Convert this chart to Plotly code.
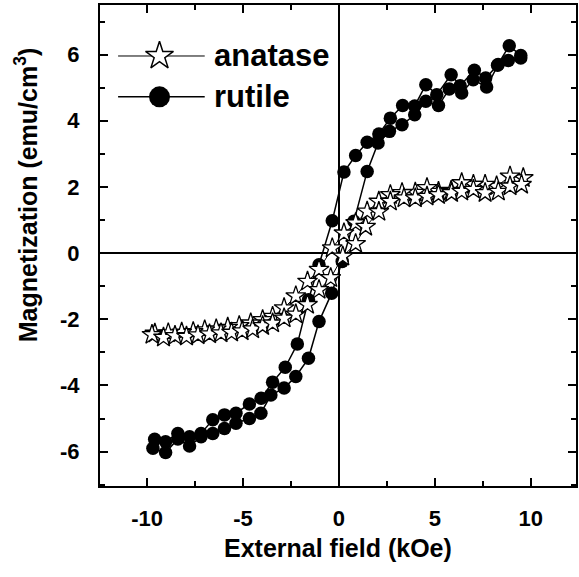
import plotly.graph_objects as go

# ---- data ----
# rutile: descending-field branch
H_RU_DOWN = [9.48, 8.88, 8.27, 7.65, 7.06, 6.32, 5.85, 5.10, 4.53, 3.95, 3.32, 2.68, 2.08, 1.47, 0.87, 0.26,
             -0.35, -1.04, -1.59, -2.17, -2.80, -3.46, -4.06, -4.67, -5.37, -5.97, -6.58, -7.19, -7.79, -8.40, -9.04, -9.61]
M_RU_DOWN = [5.97, 6.27, 5.68, 5.29, 5.53, 5.06, 5.39, 4.79, 5.09, 4.45, 4.46, 4.08, 3.60, 3.35, 2.95, 2.45,
             0.98, -0.35, -1.41, -2.75, -3.45, -3.90, -4.39, -4.56, -4.84, -4.89, -5.04, -5.45, -5.55, -5.45, -5.70, -5.63]
# rutile: ascending-field branch
H_RU_UP = [-9.70, -9.04, -8.40, -7.79, -7.19, -6.58, -5.97, -5.37, -4.67, -4.07, -3.55, -2.86, -2.25, -1.59, -1.04, -0.38,
           0.17, 0.78, 1.47, 2.04, 2.63, 3.29, 3.95, 4.53, 5.19, 5.75, 6.40, 7.00, 7.70, 8.30, 8.83, 9.48]
M_RU_UP = [-5.90, -6.03, -5.62, -5.83, -5.55, -5.45, -5.30, -5.14, -5.00, -4.84, -4.29, -4.08, -3.73, -3.18, -2.07, -1.21,
           -0.25, 0.96, 2.47, 3.33, 3.68, 3.88, 4.18, 4.59, 4.46, 4.96, 4.84, 5.24, 5.02, 5.70, 5.82, 5.90]

# anatase: descending-field branch
H_AN_DOWN = [9.61, 8.92, 8.22, 7.62, 7.01, 6.40, 5.85, 5.19, 4.59, 3.98, 3.29, 2.68, 2.08, 1.47, 0.87, 0.26,
             -0.35, -1.04, -1.64, -2.25, -2.86, -3.46, -3.98, -4.6, -5.2, -5.8, -6.4, -7.0, -7.6, -8.2, -8.9, -9.6]
M_AN_DOWN = [2.27, 2.32, 2.02, 2.07, 2.07, 2.12, 1.89, 1.86, 1.97, 1.83, 1.82, 1.76, 1.56, 1.26, 0.91, 0.60,
             0.15, -0.50, -0.86, -1.30, -1.66, -1.92, -2.02, -2.12, -2.20, -2.25, -2.30, -2.33, -2.38, -2.40, -2.42, -2.43]
# anatase: ascending-field branch
H_AN_UP = [-9.75, -9.15, -8.55, -7.95, -7.35, -6.75, -6.15, -5.6, -5.05, -4.5, -3.98, -3.46, -2.86, -2.25, -1.64, -1.04,
           -0.43, 0.2, 0.87, 1.39, 2.08, 2.68, 3.39, 3.98, 4.59, 5.19, 5.87, 6.40, 7.01, 7.62, 8.31, 8.92, 9.52]
M_AN_UP = [-2.47, -2.55, -2.50, -2.52, -2.48, -2.45, -2.42, -2.40, -2.36, -2.30, -2.20, -2.12, -1.97, -1.85, -1.56, -1.11,
           -0.75, -0.10, 0.28, 0.80, 1.25, 1.56, 1.66, 1.66, 1.71, 1.76, 1.82, 1.86, 1.92, 1.82, 1.86, 2.02, 2.07]

SERIES_NAMES = ["anatase", "rutile"]
X_TICKS = [-10, -5, 0, 5, 10]
Y_TICKS = [-6, -4, -2, 0, 2, 4, 6]

FONT = "Liberation Sans, Arial, Helvetica, sans-serif"

fig = go.Figure()

# rutile loop
fig.add_trace(go.Scatter(
    x=H_RU_DOWN + H_RU_UP, y=M_RU_DOWN + M_RU_UP, mode="lines+markers",
    line=dict(color="black", width=1.5),
    marker=dict(symbol="circle", size=13.5, color="black"),
    showlegend=False))

# anatase loop
fig.add_trace(go.Scatter(
    x=H_AN_DOWN + H_AN_UP, y=M_AN_DOWN + M_AN_UP, mode="lines+markers",
    line=dict(color="black", width=1),
    marker=dict(symbol="star", size=15, color="white", line=dict(color="black", width=1.3)),
    showlegend=False))

# ---- custom legend drawn on an overlay axis (fractions of the plot area) ----
LEG_LINE_X = [0.038, 0.125, 0.22]
LEG_ROW_Y = [0.894, 0.809]
fig.add_trace(go.Scatter(
    x=LEG_LINE_X, y=[LEG_ROW_Y[0]] * 3, mode="lines", xaxis="x2", yaxis="y2",
    line=dict(color="black", width=1), showlegend=False, hoverinfo="skip"))
fig.add_trace(go.Scatter(
    x=[LEG_LINE_X[1]], y=[LEG_ROW_Y[0]], mode="markers", xaxis="x2", yaxis="y2",
    marker=dict(symbol="star", size=21, color="white", line=dict(color="black", width=1.5)),
    showlegend=False, hoverinfo="skip"))
fig.add_trace(go.Scatter(
    x=LEG_LINE_X, y=[LEG_ROW_Y[1]] * 3, mode="lines", xaxis="x2", yaxis="y2",
    line=dict(color="black", width=1.5), showlegend=False, hoverinfo="skip"))
fig.add_trace(go.Scatter(
    x=[LEG_LINE_X[1]], y=[LEG_ROW_Y[1]], mode="markers", xaxis="x2", yaxis="y2",
    marker=dict(symbol="circle", size=21, color="black"),
    showlegend=False, hoverinfo="skip"))

annotations = []
for name, yy in zip(SERIES_NAMES, LEG_ROW_Y):
    annotations.append(dict(text=name, x=0.236, y=yy, xref="x2", yref="y2", xanchor="left",
                            yanchor="middle", showarrow=False,
                            font=dict(family=FONT, size=31, color="black", weight="bold")))

annotations.append(dict(text="Magnetization (emu/cm<sup>3</sup>)", x=-0.155, y=0.605, xref="paper", yref="paper",
                        textangle=-90, showarrow=False, xanchor="center", yanchor="middle",
                        font=dict(family=FONT, size=25, color="black", weight="bold")))
annotations.append(dict(text="External field (kOe)", x=0.5, y=-0.129, xref="paper", yref="paper",
                        showarrow=False, xanchor="center", yanchor="middle",
                        font=dict(family=FONT, size=25, color="black", weight="bold")))

axis_common = dict(
    showline=True, linecolor="black", linewidth=2, mirror="ticks",
    ticks="inside", ticklen=8, tickwidth=1.5, tickcolor="black",
    showgrid=False, zeroline=True, zerolinecolor="black", zerolinewidth=1.5,
    tickfont=dict(family=FONT, size=22, color="black", weight="bold"),
)

fig.update_layout(
    width=579, height=577,
    margin=dict(l=100, r=1, t=5, b=91),
    paper_bgcolor="white", plot_bgcolor="white",
    xaxis=dict(range=[-12.46, 12.36], tickvals=X_TICKS, ticktext=[str(v) for v in X_TICKS],
               minor=dict(ticks="inside", ticklen=5, tickwidth=1.5, tickcolor="black", dtick=2.5, tick0=0),
               ticklabelstandoff=12, **axis_common),
    yaxis=dict(range=[-7.04, 7.5], tickvals=Y_TICKS, ticktext=[str(v) for v in Y_TICKS],
               minor=dict(ticks="inside", ticklen=5, tickwidth=1.5, tickcolor="black", dtick=1, tick0=0),
               ticklabelstandoff=14, **axis_common),
    xaxis2=dict(range=[0, 1], overlaying="x", anchor="y2", visible=False, fixedrange=True),
    yaxis2=dict(range=[0, 1], overlaying="y", anchor="x2", visible=False, fixedrange=True),
    annotations=annotations,
    showlegend=False,
)

fig.write_html("out.html")
